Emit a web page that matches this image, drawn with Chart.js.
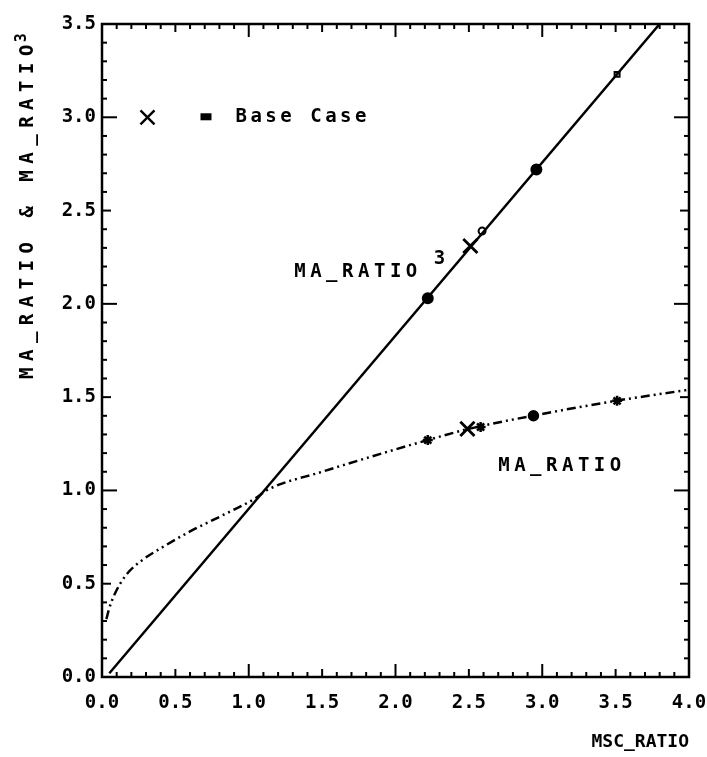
<!DOCTYPE html>
<html>
<head>
<meta charset="utf-8">
<script src="https://cdn.jsdelivr.net/npm/chart.js@4.4.1/dist/chart.umd.min.js"></script>
<style>
  html, body { margin: 0; padding: 0; background: #fff; }
  #wrap { width: 707px; height: 757px; }
</style>
</head>
<body>
<div id="wrap"><canvas id="maChart"></canvas></div>
<script>
const xTickValues = [0, 0.5, 1.0, 1.5, 2.0, 2.5, 3.0, 3.5, 4.0];
const yTickValues = [0, 0.5, 1.0, 1.5, 2.0, 2.5, 3.0, 3.5];

// MA_RATIO^3 against MSC_RATIO (solid straight line)
const cubeX = [0.05, 3.80];
const cubeY = [0.02, 3.50];

// MA_RATIO against MSC_RATIO (dash-dot-dot curve)
const ratioX = [0.03, 0.05, 0.09, 0.14, 0.19, 0.28, 0.40, 0.60, 0.83, 1.05, 1.12, 1.50, 2.00, 2.22, 2.50, 3.00, 3.50, 4.00];
const ratioY = [0.31, 0.37, 0.45, 0.52, 0.57, 0.63, 0.69, 0.78, 0.87, 0.96, 1.00, 1.10, 1.22, 1.27, 1.33, 1.41, 1.48, 1.54];

// runs marked on the curves
const cubeMarkX = [2.22, 2.59, 2.96, 3.51];
const cubeMarkY = [2.03, 2.39, 2.72, 3.23];
const ratioMarkX = [2.22, 2.58, 2.94, 3.51];
const ratioMarkY = [1.27, 1.34, 1.40, 1.48];

// base case (X)
const baseX = [2.51, 2.49];
const baseY = [2.31, 1.33];

const FONT = "'DejaVu Sans Mono', monospace";

function pts(xs, ys) {
  return xs.map((x, i) => ({ x: x, y: ys[i] }));
}

// frame, inward ticks and the text written on the plot
const decor = {
  id: "decor",
  afterDraw(chart) {
    const ctx = chart.ctx;
    const a = chart.chartArea;
    const x = chart.scales.x;
    const y = chart.scales.y;

    ctx.save();
    ctx.strokeStyle = "#000";
    ctx.fillStyle = "#000";
    ctx.lineCap = "butt";

    const seg = (x1, y1, x2, y2) => {
      ctx.beginPath();
      ctx.moveTo(x1, y1);
      ctx.lineTo(x2, y2);
      ctx.stroke();
    };

    ctx.lineWidth = 2;
    for (let i = 1; i < 40; i++) {
      const px = x.getPixelForValue(i / 10);
      const len = i % 10 === 0 ? 13 : i % 5 === 0 ? 8 : 5;
      seg(px, a.bottom, px, a.bottom - len);
      seg(px, a.top, px, a.top + len);
    }
    for (let i = 1; i < 35; i++) {
      const py = y.getPixelForValue(i / 10);
      const len = i % 10 === 0 ? 15 : i % 5 === 0 ? 9 : 5;
      seg(a.left, py, a.left + len, py);
      seg(a.right, py, a.right - len, py);
    }

    ctx.lineWidth = 2.5;
    ctx.strokeRect(a.left, a.top, a.right - a.left, a.bottom - a.top);

    // legend: X = Base Case
    const lx = x.getPixelForValue(0.31);
    const ly = y.getPixelForValue(3.0);
    ctx.lineWidth = 2.4;
    seg(lx - 7, ly - 7, lx + 7, ly + 7);
    seg(lx - 7, ly + 7, lx + 7, ly - 7);
    ctx.fillRect(lx + 53, ly - 4, 11, 7);

    ctx.font = "bold 19px " + FONT;
    ctx.letterSpacing = "3.5px";
    ctx.textBaseline = "middle";
    ctx.textAlign = "left";
    ctx.fillText("Base Case", lx + 88, ly);

    // curve labels
    ctx.letterSpacing = "4.5px";
    ctx.fillText("MA_RATIO", x.getPixelForValue(1.31), y.getPixelForValue(2.17));
    ctx.fillText("3", x.getPixelForValue(2.26), y.getPixelForValue(2.24));
    ctx.fillText("MA_RATIO", x.getPixelForValue(2.70), y.getPixelForValue(1.13));

    // y axis title
    ctx.translate(28, 379);
    ctx.rotate(-Math.PI / 2);
    ctx.letterSpacing = "6.5px";
    ctx.fillText("MA_RATIO & MA_RATIO", 0, 0);
    const w = ctx.measureText("MA_RATIO & MA_RATIO").width;
    ctx.font = "bold 15px " + FONT;
    ctx.fillText("3", w - 4, -6);
    ctx.restore();
  },
};

new Chart(document.getElementById("maChart"), {
  type: "scatter",
  data: {
    datasets: [
      {
        label: "MA_RATIO^3",
        data: pts(cubeX, cubeY),
        showLine: true,
        borderColor: "#000",
        borderWidth: 2.5,
        pointRadius: 0,
      },
      {
        label: "MA_RATIO",
        data: pts(ratioX, ratioY),
        showLine: true,
        borderColor: "#000",
        borderWidth: 2.5,
        borderDash: [9, 4, 2, 4, 2, 4],
        cubicInterpolationMode: "monotone",
        pointRadius: 0,
      },
      {
        label: "MA_RATIO^3 runs",
        data: pts(cubeMarkX, cubeMarkY),
        pointStyle: ["circle", "circle", "circle", "rect"],
        pointRadius: [5, 3.5, 5, 3.5],
        backgroundColor: ["#000", "#fff", "#000", "#fff"],
        borderColor: "#000",
        borderWidth: 2,
      },
      {
        label: "MA_RATIO runs",
        data: pts(ratioMarkX, ratioMarkY),
        pointStyle: ["star", "star", "circle", "star"],
        pointRadius: [5, 5, 4.5, 5],
        backgroundColor: "#000",
        borderColor: "#000",
        borderWidth: 2.5,
      },
      {
        label: "Base Case",
        data: pts(baseX, baseY),
        pointStyle: "crossRot",
        pointRadius: 10,
        borderColor: "#000",
        borderWidth: 2.8,
      },
    ],
  },
  options: {
    responsive: true,
    maintainAspectRatio: false,
    animation: false,
    layout: { padding: { top: 24, right: 18, bottom: 0, left: 0 } },
    plugins: {
      legend: { display: false },
      tooltip: { enabled: false },
    },
    scales: {
      x: {
        type: "linear",
        min: 0,
        max: 4,
        afterBuildTicks: (s) => { s.ticks = xTickValues.map((v) => ({ value: v })); },
        afterFit: (s) => {
          s.height = 80;
          s.paddingLeft = 0;
          s.paddingRight = 0;
        },
        grid: { display: false, drawTicks: false },
        border: { display: false },
        ticks: {
          color: "#000",
          padding: 15,
          maxRotation: 0,
          font: { family: FONT, size: 19, weight: "bold" },
          callback: (v) => v.toFixed(1),
        },
        title: {
          display: true,
          text: "MSC_RATIO",
          align: "end",
          color: "#000",
          padding: { top: 22 },
          font: { family: FONT, size: 18, weight: "bold" },
        },
      },
      y: {
        type: "linear",
        min: 0,
        max: 3.5,
        afterBuildTicks: (s) => { s.ticks = yTickValues.map((v) => ({ value: v })); },
        afterFit: (s) => {
          s.width = 102;
          s.paddingTop = 0;
          s.paddingBottom = 0;
        },
        grid: { display: false, drawTicks: false },
        border: { display: false },
        ticks: {
          color: "#000",
          padding: 6,
          font: { family: FONT, size: 19, weight: "bold" },
          callback: (v) => v.toFixed(1),
        },
      },
    },
  },
  plugins: [decor],
});
</script>
</body>
</html>
